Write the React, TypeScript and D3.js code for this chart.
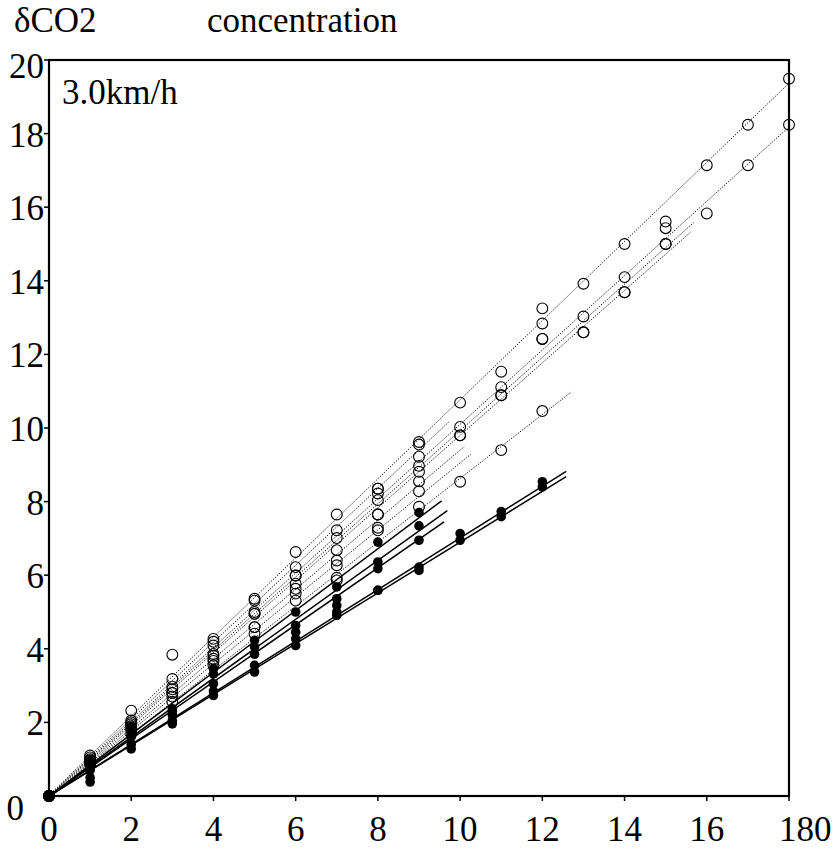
import React, { useEffect } from "react";
import * as d3 from "d3";

// ---- data (minutes -> δCO2 concentration), index = minute ----
const open1 = [0, 1.10, 2.32, 3.18, 4.27, 5.36, 6.63, 7.65, 8.35, 9.62, 10.69, 11.53, 13.25, 13.92, 15.0, 15.61, 17.14, 18.24, 19.49];
const open2 = [0, 1.00, 2.00, 2.97, 4.09, 5.00, 5.99, 7.01, 8.22, 9.22, 10.03, 11.11, 12.84, 13.03, 14.10, 15.00, 15.83, 17.14, 18.24];
const open3 = [0, 0.97, 1.95, 2.90, 3.86, 4.95, 5.99, 6.68, 8.04, 8.97, 9.80, 10.89, 12.42, 12.60, 13.69, 15.43];
const open4 = [0, 0.95, 1.90, 2.80, 3.81, 4.95, 5.77, 5.86, 7.65, 8.81, 9.80, 10.89, 12.42, 12.60, 13.69, 15.00];
const open5 = [0, 0.85, 1.70, 2.56, 3.55, 4.41, 5.31, 5.93, 7.22, 7.86, 8.54, 9.40, 10.46];
const open6 = [0, 1.05, 2.05, 3.84, 4.19, 5.31, 6.22, 7.22, 8.35, 9.55];
const open7 = [0, 0.93, 1.85, 2.80, 3.73, 4.59, 5.63, 6.40, 7.65, 8.55];
const open8 = [0, 0.90, 1.80, 2.70, 3.67, 4.59, 5.50, 6.27, 7.29, 8.28];

const openSlope = [1.075, 1.01, 0.995, 0.985, 0.868, 1.045, 0.945, 0.91];
const openIntercept = [0.02, 0.0, -0.02, -0.05, -0.05, 0.0, -0.05, -0.05];
const openLineEnd = [18, 18, 15.68, 15.6, 12.7, 9.72, 10.1, 10.26];

const filled1 = [0, 0.95, 1.90, 2.37, 3.46, 4.23, 5.00, 5.68, 6.90, 7.70];
const filled2 = [0, 0.80, 1.70, 2.29, 3.32, 4.05, 4.63, 5.36, 6.36, 7.34];
const filled3 = [0, 0.70, 1.60, 2.20, 3.05, 3.85, 4.45, 5.18, 6.18, 6.95];
const filled4 = [0, 0.50, 1.40, 2.05, 2.85, 3.55, 4.27, 5.00, 5.59, 6.22, 7.13, 7.73, 8.54];
const filled5 = [0, 0.38, 1.28, 1.96, 2.73, 3.37, 4.09, 4.91, 5.59, 6.13, 6.95, 7.59, 8.40];

const filledSlope = [0.84, 0.80, 0.775, 0.701, 0.69];
const filledIntercept = [0, 0, 0, 0, 0];
const filledLineEnd = [9.55, 9.69, 9.61, 12.58, 12.58];

const xTicks = [0, 2, 4, 6, 8, 10, 12, 14, 16, 18];
const xTickLabels = ["0", "2", "4", "6", "8", "10", "12", "14", "16", "180"];
const yTicks = [0, 2, 4, 6, 8, 10, 12, 14, 16, 18, 20];
const yTickLabels = ["0", "2", "4", "6", "8", "10", "12", "14", "16", "18", "20"];

const titleLeft = "δCO2";
const titleRight = "concentration";
const speedLabel = "3.0km/h";

const openSeries = [open1, open2, open3, open4, open5, open6, open7, open8];
const filledSeries = [filled1, filled2, filled3, filled4, filled5];

const W = 832;
const H = 849;
const FS = 35;
const FONT = '"Times New Roman", "Liberation Serif", Tinos, "Nimbus Roman", FreeSerif';

function T(props: { x: number; y: number; anchor?: string; children: React.ReactNode }) {
  return (
    <text
      className="serif-t"
      x={props.x}
      y={props.y}
      textAnchor={props.anchor || "start"}
      fill="#000"
      fontFamily={FONT}
      style={{ fontFamily: FONT, fontSize: FS }}
    >
      {props.children}
    </text>
  );
}

export default function App() {
  useEffect(() => {
    const st = document.createElement("style");
    st.textContent = `body{margin:0} text.serif-t{font-family:${FONT} !important;}`;
    document.head.appendChild(st);
    return () => {
      document.head.removeChild(st);
    };
  }, []);

  const x = d3.scaleLinear().domain([0, 18]).range([49, 789]);
  const y = d3.scaleLinear().domain([0, 20]).range([796, 60]);
  const line = d3
    .line<[number, number]>()
    .x((d) => x(d[0]))
    .y((d) => y(d[1]));

  const fitPath = (slope: number, icpt: number, end: number) =>
    line([
      [0, icpt],
      [end, icpt + slope * end],
    ]) as string;

  return (
    <svg
      width={W}
      height={H}
      fontFamily={FONT}
      style={{ position: "absolute", left: 0, top: 0, background: "#fff" }}
    >
      <rect x={0} y={0} width={W} height={H} fill="#fff" />
      {/* titles */}
      <T x={14} y={32}>{titleLeft}</T>
      <T x={207} y={32}>{titleRight}</T>

      {/* fit lines: open (dotted) */}
      {openSlope.map((s, i) => (
        <path
          key={"ol" + i}
          d={fitPath(s, openIntercept[i], openLineEnd[i])}
          fill="none"
          stroke="#111"
          strokeWidth={1}
          strokeDasharray="1.3,1.5"
        />
      ))}
      {/* fit lines: filled (solid) */}
      {filledSlope.map((s, i) => (
        <path
          key={"fl" + i}
          d={fitPath(s, filledIntercept[i], filledLineEnd[i])}
          fill="none"
          stroke="#000"
          strokeWidth={1.5}
        />
      ))}

      {/* filled points */}
      {filledSeries.map((ser, i) =>
        ser.map((v, j) => (
          <circle key={`f${i}-${j}`} cx={x(j)} cy={y(v)} r={4.8} fill="#000" />
        ))
      )}
      {/* open points */}
      {openSeries.map((ser, i) =>
        ser.map((v, j) => (
          <circle
            key={`o${i}-${j}`}
            cx={x(j)}
            cy={y(v)}
            r={5.4}
            fill="none"
            stroke="#000"
            strokeWidth={1.1}
          />
        ))
      )}

      {/* frame */}
      <rect
        x={x(0)}
        y={y(20)}
        width={x(18) - x(0)}
        height={y(0) - y(20)}
        fill="none"
        stroke="#000"
        strokeWidth={2.2}
      />

      {/* y ticks */}
      {yTicks.map((t, i) => (
        <g key={"yt" + i}>
          <line x1={x(0) - 5} x2={x(0)} y1={y(t)} y2={y(t)} stroke="#000" strokeWidth={1.5} />
          <T x={t === 0 ? 24 : x(0) - 5} y={y(t) + (t === 0 ? 24 : t === 20 ? 18 : 13)} anchor="end">
            {yTickLabels[i]}
          </T>
        </g>
      ))}
      {/* x ticks */}
      {xTicks.map((t, i) => (
        <g key={"xt" + i}>
          <line x1={x(t)} x2={x(t)} y1={y(0)} y2={y(0) + 5} stroke="#000" strokeWidth={1.5} />
          <T
            x={i === xTicks.length - 1 ? x(t) - 10 : x(t)}
            y={y(0) + 45}
            anchor={i === xTicks.length - 1 ? "start" : "middle"}
          >
            {xTickLabels[i]}
          </T>
        </g>
      ))}

      <T x={62} y={104}>{speedLabel}</T>
    </svg>
  );
}
